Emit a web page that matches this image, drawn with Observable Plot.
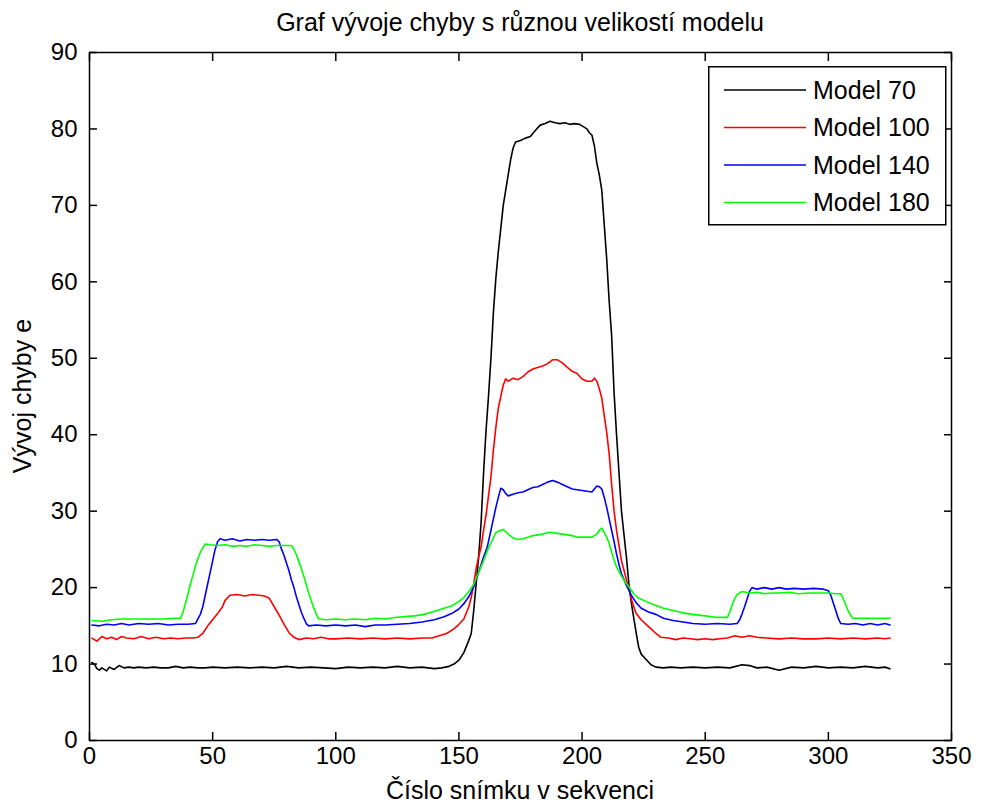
<!DOCTYPE html>
<html><head><meta charset="utf-8">
<script src="https://cdn.jsdelivr.net/npm/d3@7"></script>
<script src="https://cdn.jsdelivr.net/npm/@observablehq/plot@0.6"></script>
<style>
body{margin:0;background:#fff;}
#wrap{position:relative;width:982px;height:805px;font-family:"Liberation Sans",Arial,sans-serif;color:#000;}
.title{position:absolute;left:89px;width:862px;top:8px;text-align:center;font-size:25px;line-height:28px;}
.xlabel{position:absolute;left:89px;width:862px;top:776px;text-align:center;font-size:25px;line-height:28px;}
.ylabel{position:absolute;left:22px;top:396px;transform:translate(-50%,-50%) rotate(-90deg);white-space:nowrap;font-size:25px;line-height:28px;}
#legend{position:absolute;left:708px;top:66px;}
#chart svg{overflow:visible;}
</style></head>
<body>
<div id="wrap">
  <div id="chart"></div>
  <div class="title">Graf vývoje chyby s různou velikostí modelu</div>
  <div class="xlabel">Číslo snímku v sekvenci</div>
  <div class="ylabel">Vývoj chyby e</div>
  <div id="legend"></div>
</div>
<script>
const modelNames = ["Model 70", "Model 100", "Model 140", "Model 180"];
const modelColors = ["#000000", "#ff0000", "#0000ff", "#00ff00"];
const xTicks = [0, 50, 100, 150, 200, 250, 300, 350];
const yTicks = [0, 10, 20, 30, 40, 50, 60, 70, 80, 90];

const model70 = [[1,10.2],[2,10.0],[3,9.4],[4,9.2],[5,9.5],[6,9.3],[7,9.1],[8,9.6],[10,9.3],[12,9.8],[14,9.5],[16,9.6],[18,9.5],[20,9.6],[23,9.5],[26,9.6],[29,9.5],[32,9.5],[35,9.7],[38,9.5],[41,9.6],[44,9.5],[47,9.5],[50,9.6],[55,9.5],[60,9.6],[65,9.5],[70,9.6],[75,9.5],[80,9.7],[85,9.5],[90,9.6],[95,9.5],[100,9.4],[105,9.6],[110,9.5],[115,9.6],[120,9.5],[125,9.7],[130,9.5],[135,9.6],[140,9.4],[143,9.5],[146,9.7],[148,10.0],[150,10.5],[152,11.5],[154,13.1],[155,14],[156,17],[157,20.5],[158,24],[159,28.5],[160,35],[161,40.5],[162,45],[163,50],[164,56],[165,60.5],[166,64],[167,67],[168,70],[169,72],[170,74],[171,76],[172,77.5],[173,78.3],[175,78.5],[177,78.8],[179,79],[181,79.8],[183,80.5],[185,80.7],[187,81.0],[189,80.8],[191,80.7],[193,80.8],[195,80.6],[197,80.7],[199,80.6],[201,80.2],[202,80],[203,79.5],[204,79.2],[205,77.8],[206,75.5],[207,74],[208,72],[209,67.5],[210,63],[211,57.5],[212,53],[213,45.5],[214,40],[215,35],[216,30],[217,27],[218,24],[219,20.5],[220,18],[221,16],[222,14],[223,12.2],[224,11.3],[226,10.6],[228,9.9],[230,9.6],[233,9.5],[236,9.6],[240,9.5],[245,9.6],[250,9.5],[255,9.6],[260,9.5],[265,9.9],[268,9.8],[271,9.5],[275,9.6],[280,9.2],[285,9.6],[290,9.5],[295,9.7],[300,9.5],[305,9.6],[310,9.5],[315,9.7],[320,9.5],[323,9.6],[325,9.4]];

const model100 = [[1,13.4],[3,13.0],[5,13.6],[7,13.3],[9,13.5],[11,13.2],[13,13.6],[15,13.4],[18,13.3],[21,13.6],[24,13.3],[27,13.5],[30,13.3],[33,13.4],[36,13.3],[39,13.4],[42,13.4],[44,13.5],[46,14.0],[48,15.0],[50,15.8],[52,16.6],[54,17.5],[55,18.3],[57,19.0],[60,19.1],[63,18.9],[66,19.1],[69,19.0],[71,18.9],[73,18.6],[75,17.5],[77,16.4],[79,15.2],[81,14.1],[83,13.5],[85,13.2],[88,13.4],[91,13.3],[94,13.5],[97,13.3],[100,13.3],[105,13.4],[110,13.3],[115,13.4],[120,13.3],[125,13.4],[130,13.3],[135,13.4],[139,13.4],[142,13.7],[145,14.0],[148,14.6],[150,15.2],[152,15.9],[154,17.5],[155,18.7],[156,20.5],[157,22.5],[158,24],[159,25.3],[160,27.5],[161,29.5],[162,32],[163,34.5],[164,38],[165,41],[166,43.5],[167,45],[168,46.5],[169,47.3],[170,47.0],[172,47.4],[174,47.2],[176,47.6],[178,48.2],[180,48.6],[182,48.8],[184,49.0],[186,49.3],[188,49.8],[190,49.8],[192,49.4],[194,48.8],[196,48.3],[198,48.0],[200,47.3],[202,47.0],[204,47.0],[205,47.4],[206,47.0],[207,46.0],[208,44.8],[209,42.5],[210,40.3],[211,37.5],[212,33.5],[213,30],[214,27.5],[215,25.5],[216,23.5],[217,22.3],[218,21.0],[219,20.1],[220,18.5],[221,17.5],[222,16.6],[224,15.8],[226,15.2],[228,14.6],[230,14.0],[232,13.5],[235,13.4],[238,13.2],[241,13.4],[244,13.3],[247,13.2],[250,13.3],[253,13.2],[256,13.3],[259,13.4],[262,13.7],[265,13.5],[268,13.7],[271,13.5],[275,13.4],[280,13.3],[285,13.4],[290,13.3],[295,13.3],[300,13.4],[305,13.3],[310,13.4],[315,13.3],[320,13.4],[323,13.3],[325,13.4]];

const model140 = [[1,15.1],[4,15.0],[7,15.2],[10,15.1],[13,15.3],[16,15.1],[20,15.3],[24,15.2],[28,15.3],[32,15.1],[36,15.2],[40,15.2],[43,15.3],[45,16.5],[46,17.5],[47,19],[48,20.5],[49,22],[50,23.5],[51,25],[52,26.0],[53,26.4],[55,26.2],[58,26.4],[61,26.1],[64,26.3],[67,26.2],[70,26.3],[73,26.2],[76,26.3],[77,26.0],[78,25.0],[79,24.2],[80,23.2],[81,22.2],[82,21.0],[83,20.0],[84,18.8],[85,17.8],[86,16.8],[87,16.0],[88,15.3],[89,15.0],[92,15.1],[96,15.0],[100,15.1],[104,15.0],[108,15.1],[112,14.9],[116,15.1],[120,15.1],[125,15.2],[130,15.3],[135,15.5],[140,15.8],[144,16.2],[147,16.6],[150,17.2],[152,17.9],[154,18.8],[156,20.1],[158,22],[160,24],[161.5,25.3],[163,27.5],[164,29],[165,30.5],[166,31.8],[167,33.0],[168,32.8],[169,32.3],[170,32.0],[172,32.2],[174,32.4],[176,32.5],[178,32.8],[180,33.1],[182,33.2],[184,33.5],[186,33.8],[188,34.0],[190,33.8],[192,33.5],[194,33.2],[196,32.9],[198,32.8],[200,32.7],[202,32.6],[204,32.5],[205,32.9],[206,33.3],[207,33.2],[208,32.9],[209,31.8],[210,30.5],[211,29],[212,27.5],[213,26],[214,24.4],[215,23],[216,21.8],[218,20.3],[220,19.0],[222,18.0],[224,17.3],[227,16.8],[230,16.5],[233,16.0],[237,15.7],[241,15.5],[245,15.3],[250,15.2],[255,15.3],[260,15.2],[263,15.3],[264,15.8],[265,16.6],[266,17.5],[267,18.5],[268,19.5],[269,20.0],[271,19.8],[274,20.0],[277,19.8],[280,20.0],[283,19.8],[286,19.9],[290,19.8],[294,19.9],[298,19.8],[300,19.6],[301,19.0],[302,18.0],[303,17.0],[304,16.0],[305,15.3],[308,15.2],[311,15.3],[314,15.1],[317,15.3],[320,15.1],[323,15.3],[325,15.1]];

const model180 = [[1,15.7],[5,15.6],[9,15.8],[13,15.9],[17,15.9],[21,15.9],[25,15.9],[30,15.9],[34,16.0],[37,16.0],[38,16.8],[39,18.0],[40,19.2],[41,20.5],[42,21.6],[43,22.8],[44,23.8],[45,24.6],[46,25.2],[47,25.7],[49,25.6],[52,25.5],[55,25.6],[58,25.4],[61,25.5],[64,25.4],[67,25.6],[70,25.5],[73,25.4],[76,25.5],[79,25.5],[82,25.5],[83,25.0],[84,24.3],[85,23.4],[86,22.5],[87,21.5],[88,20.4],[89,19.3],[90,18.3],[91,17.4],[92,16.6],[93,15.9],[96,15.8],[100,15.9],[104,15.8],[108,15.9],[112,15.8],[116,16.0],[120,15.9],[124,16.1],[128,16.2],[132,16.3],[136,16.5],[140,16.9],[144,17.3],[147,17.6],[150,18.2],[152,18.7],[154,19.5],[156,20.4],[158,22.0],[160,23.5],[162,25.2],[163,25.8],[165,27.2],[167,27.5],[168,27.6],[170,27.0],[172,26.5],[174,26.3],[176,26.4],[178,26.6],[180,26.8],[182,26.9],[184,27.0],[186,27.2],[188,27.2],[190,27.1],[192,27.0],[194,26.9],[196,26.8],[198,26.6],[200,26.6],[202,26.6],[204,26.6],[206,27.0],[207,27.5],[208,27.8],[209,27.2],[210,26.6],[211,25.8],[212,24.6],[213,23.6],[214,22.7],[216,21.5],[218,20.5],[219,20.1],[221,19.2],[223,18.6],[226,18.2],[229,17.8],[233,17.3],[237,17.0],[241,16.7],[245,16.5],[250,16.3],[255,16.1],[259,16.1],[260,16.8],[261,17.8],[262,18.6],[263,19.1],[265,19.5],[268,19.3],[271,19.4],[274,19.2],[277,19.3],[280,19.3],[284,19.4],[288,19.2],[292,19.3],[296,19.3],[300,19.3],[303,19.2],[305,19.2],[306,18.6],[307,17.8],[308,17.0],[309,16.4],[310,16.0],[313,16.0],[316,16.0],[320,16.0],[323,16.0],[325,16.0]];

const seriesData = [model70, model100, model140, model180];
const rows = seriesData.flatMap((s, i) => s.map(([frame, value]) => ({frame, value, model: modelNames[i]})));

const chart = Plot.plot({
  width: 982, height: 805,
  marginLeft: 89, marginRight: 31, marginTop: 52, marginBottom: 65,
  style: {fontFamily: "'Liberation Sans', Arial, sans-serif", fontSize: "24px", color: "#000", background: "#fff"},
  x: {domain: [0, 350]},
  y: {domain: [0, 90]},
  color: {domain: modelNames, range: modelColors},
  marks: [
    Plot.line(rows, {x: "frame", y: "value", z: "model", stroke: "model", strokeWidth: 1.6}),
    Plot.frame({stroke: "#000", strokeWidth: 1.5}),
    Plot.axisX({anchor: "bottom", ticks: xTicks, tickSize: -8, tickPadding: 14, strokeWidth: 1.5, tickFormat: d => String(d), label: null}),
    Plot.axisX({anchor: "top", ticks: xTicks, tickSize: -8, strokeWidth: 1.5, tickFormat: () => "", label: null}),
    Plot.axisY({anchor: "left", ticks: yTicks, tickSize: -8, tickPadding: 20, strokeWidth: 1.5, tickFormat: d => String(d), label: null}),
    Plot.axisY({anchor: "right", ticks: yTicks, tickSize: -8, strokeWidth: 1.5, tickFormat: () => "", label: null})
  ]
});
document.getElementById("chart").appendChild(chart);

// legend
const leg = d3.select("#legend").append("svg").attr("width", 240).attr("height", 162)
  .style("font-family", "'Liberation Sans', Arial, sans-serif").style("font-size", "25px");
leg.append("rect").attr("x", 0.75).attr("y", 0.75).attr("width", 237).attr("height", 158)
  .attr("fill", "#fff").attr("stroke", "#000").attr("stroke-width", 1.5);
modelNames.forEach((name, i) => {
  const cy = 24 + i * 37.5;
  leg.append("line").attr("x1", 16).attr("x2", 98).attr("y1", cy).attr("y2", cy)
    .attr("stroke", modelColors[i]).attr("stroke-width", 1.6);
  leg.append("text").attr("x", 105).attr("y", cy).attr("dy", "0.35em").text(name);
});
</script>
</body></html>
